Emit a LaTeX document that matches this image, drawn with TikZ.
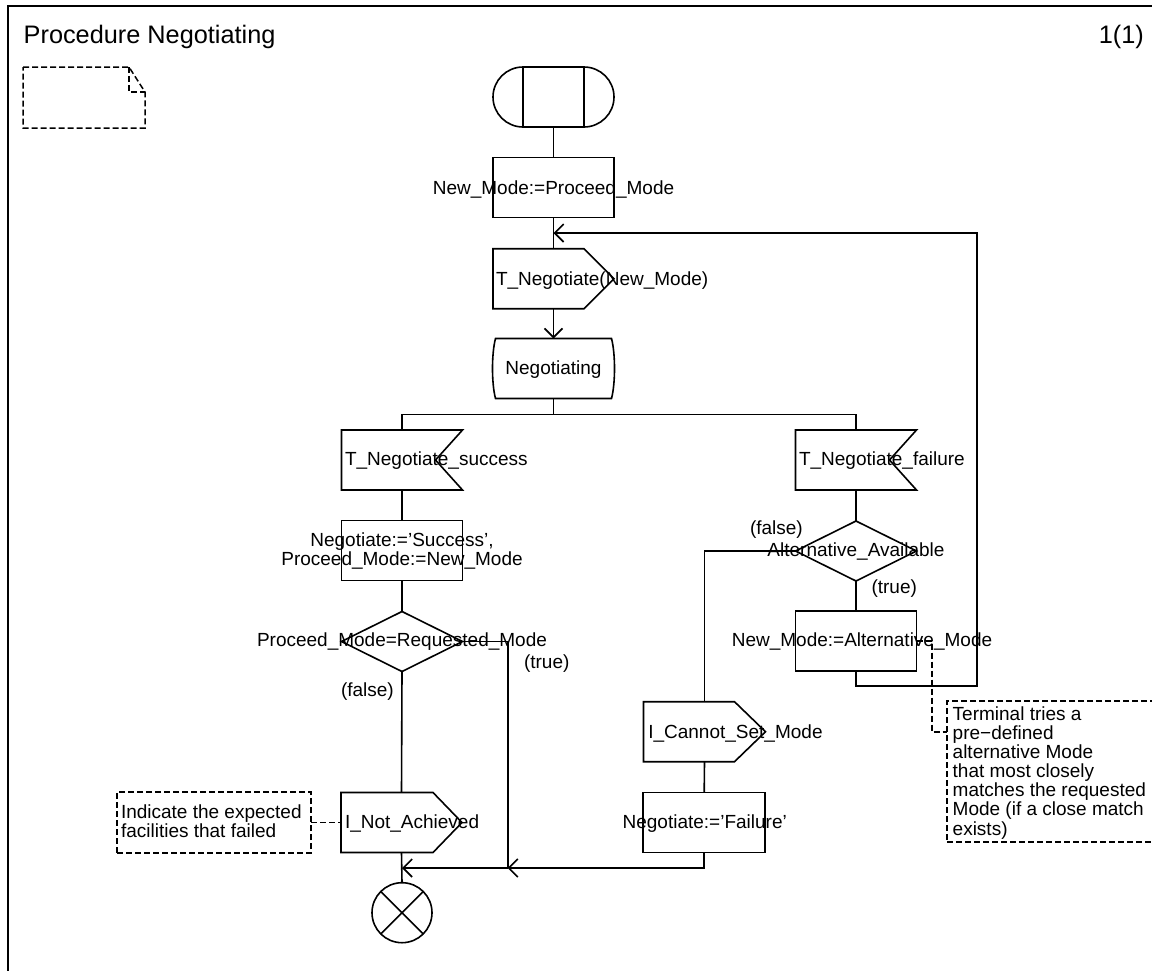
\documentclass[tikz,border=0pt]{standalone}
\usepackage{fontspec}
\setmainfont{Liberation Sans}
\usetikzlibrary{arrows.meta}
\begin{document}
\begin{tikzpicture}[x=1pt,y=-1pt,
  sym/.style={minimum width=121pt,minimum height=60pt,inner sep=0pt,outer sep=0pt},
  ln/.style={draw,line width=1.6pt},
  arr/.style={ln,-{Straight Barb[length=9pt,width=18pt]}},
  cmt/.style={draw,line width=1.5pt,dash pattern=on 6pt off 3pt},
  lbl/.style={font=\fontsize{19}{18.5}\selectfont,inner sep=0pt,outer sep=0pt,anchor=base},
  lblw/.style={lbl,anchor=base west},
]
\useasboundingbox (0,0) rectangle (1152,970);
% frame
\draw[line width=2pt] (8,990) -- (8,6) -- (1170,6);
\node[anchor=base west,font=\fontsize{25.3}{28}\selectfont,inner sep=0pt] (title) at (23.5,43) {Procedure Negotiating};
\node[anchor=base east,font=\fontsize{25.3}{28}\selectfont,inner sep=0pt] (page) at (1144,43) {1(1)};

% text symbol (top left)
\node[minimum width=122pt,minimum height=61pt,inner sep=0pt,outer sep=0pt] (textsym) at (84,97.5) {};
\draw[cmt] (textsym.north west) -- ([xshift=-16pt]textsym.north east) -- ([yshift=-25pt]textsym.north east) -- (textsym.south east) -- (textsym.south west) -- cycle;
\draw[cmt] ([xshift=-16pt]textsym.north east) -- ([xshift=-16pt,yshift=-25pt]textsym.north east) -- ([yshift=-25pt]textsym.north east);

% start
\node[sym] (start) at (553.5,97) {};
\draw[ln] ([xshift=30pt]start.north west) -- ([xshift=-30pt]start.north east) arc[start angle=90,end angle=-90,radius=30pt] -- ([xshift=30pt]start.south west) arc[start angle=270,end angle=90,radius=30pt] -- cycle;
\draw[ln] ([xshift=30pt]start.north west) -- ([xshift=30pt]start.south west) ([xshift=-30pt]start.north east) -- ([xshift=-30pt]start.south east);

% task 1
\node[sym,ln] (task1) at (553.5,187.5) {};
\node[lbl] (task1t) at (553.5,194) {New\_Mode:=Proceed\_Mode};

% output 1
\node[sym] (out1) at (553.5,278.7) {};
\draw[ln] (out1.north west) -- ([xshift=-30pt]out1.north east) -- (out1.east) -- ([xshift=-30pt]out1.south east) -- (out1.south west) -- cycle;
\node[lblw] (out1t) at (496,285) {T\_Negotiate(New\_Mode)};

% state
\node[sym,minimum width=116pt] (state) at (553.5,368.5) {};
\draw[ln] (state.north west) -- (state.north east) .. controls ([xshift=4pt,yshift=-15pt]state.north east) and ([xshift=4pt,yshift=15pt]state.south east) .. (state.south east) -- (state.south west) .. controls ([xshift=-4pt,yshift=15pt]state.south west) and ([xshift=-4pt,yshift=-15pt]state.north west) .. (state.north west) -- cycle;
\node[lbl] (statet) at (553.5,374) {Negotiating};

% inputs
\node[sym] (inS) at (402,460) {};
\draw[ln] (inS.north west) -- (inS.north east) -- ([xshift=-27pt]inS.east) -- (inS.south east) -- (inS.south west) -- cycle;
\node[lblw] (inSt) at (345,465.5) {T\_Negotiate\_success};
\node[sym] (inF) at (856,460) {};
\draw[ln] (inF.north west) -- (inF.north east) -- ([xshift=-27pt]inF.east) -- (inF.south east) -- (inF.south west) -- cycle;
\node[lblw] (inFt) at (799,465) {T\_Negotiate\_failure};

% left column
\node[sym,ln] (tS) at (402,550.5) {};
\node[lbl] (tSt) at (402,546.5) {\begin{tabular}[t]{@{}c@{}}Negotiate:=’Success’,\\Proceed\_Mode:=New\_Mode\end{tabular}};
\node[sym] (dS) at (402,641.5) {};
\draw[ln] (dS.north) -- (dS.east) -- (dS.south) -- (dS.west) -- cycle;
\node[lbl] (dSt) at (402,646.5) {Proceed\_Mode=Requested\_Mode};
\node[lblw] (dStrue) at (524,668) {(true)};
\node[lblw] (dSfalse) at (341,696) {(false)};
\node[sym] (ina) at (401.5,822.5) {};
\draw[ln] (ina.north west) -- ([xshift=-29pt]ina.north east) -- (ina.east) -- ([xshift=-29pt]ina.south east) -- (ina.south west) -- cycle;
\node[lblw] (inat) at (345,828.5) {I\_Not\_Achieved};
\node[cmt,minimum width=194pt,minimum height=61pt,inner sep=0pt,outer sep=0pt] (noteL) at (214,822.5) {};
\node[lblw,font=\fontsize{19}{19}\selectfont] (noteLt) at (121,818) {\begin{tabular}[t]{@{}l@{}}Indicate the expected\\facilities that failed\end{tabular}};
\node[circle,ln,minimum size=60pt,inner sep=0pt,outer sep=0pt] (endsym) at (402,912.7) {};
\draw[ln] (endsym.north west) -- (endsym.south east) (endsym.north east) -- (endsym.south west);

% right column
\node[sym] (dF) at (856,551) {};
\draw[ln] (dF.north) -- (dF.east) -- (dF.south) -- (dF.west) -- cycle;
\node[lbl] (dFt) at (856,556.5) {Alternative\_Available};
\node[lblw] (dFfalse) at (750,534) {(false)};
\node[lblw] (dFtrue) at (871.5,593) {(true)};
\node[sym,ln] (alt) at (856,641) {};
\node[lbl] (altt) at (862,646.5) {New\_Mode:=Alternative\_Mode};
\node[sym,minimum width=122pt] (cannot) at (704.5,731.7) {};
\draw[ln] (cannot.north west) -- ([xshift=-31pt]cannot.north east) -- (cannot.east) -- ([xshift=-31pt]cannot.south east) -- (cannot.south west) -- cycle;
\node[lblw] (cannott) at (648.3,738.5) {I\_Cannot\_Set\_Mode};
\node[sym,ln,minimum width=122pt] (fTask) at (704.2,822.3) {};
\node[lbl] (fTaskt) at (704.7,828.5) {Negotiate:=’Failure’};
\node[cmt,minimum width=223pt,minimum height=141pt,inner sep=0pt,outer sep=0pt,anchor=north west] (noteR) at (947,701) {};
\node[lblw,font=\fontsize{19}{18}\selectfont] (noteRt) at (952.7,720) {\begin{tabular}[t]{@{}l@{}}Terminal tries a\\pre−defined\\alternative Mode\\that most closely\\matches the requested\\Mode (if a close match\\exists)\end{tabular}};

% connectors
\coordinate (join) at (553.5,233);
\coordinate (loopA) at (977,686);
\coordinate (brL) at (402,414.5);
\coordinate (brR) at (856,414.5);
\coordinate (mT) at (507.7,868);
\coordinate (mL) at (402,868);
\coordinate (cR1) at (932,641);
\coordinate (cR2) at (947,732);

\draw[ln] (start.south) -- (task1.north);
\draw[ln] (task1.south) -- (out1.north);
\draw[arr] (out1.south) -- (state.north);
\draw[ln] (state.south) -- (state.south |- brL);
\draw[ln] (inS.north) -- (brL) -- (brR) -- (inF.north);
\draw[ln] (inS.south) -- (tS.north);
\draw[ln] (tS.south) -- (dS.north);
\draw[ln] (dS.south) -- (ina.north);
\draw[ln] (ina.south) -- (endsym.north);
\draw[ln] (dS.east) -| (mT);
\draw[arr] (fTask.south) |- (mT);
\draw[arr] (mT) -- (mL);
\draw[ln] (inF.south) -- (dF.north);
\draw[ln] (dF.south) -- (alt.north);
\draw[ln] (dF.west) -| (cannot.north);
\draw[ln] (cannot.south) -- (fTask.north);
\draw[arr] (alt.south) |- (loopA) |- (join);
\draw[cmt] (noteL.east) -- (ina.west);
\draw[cmt] (alt.east) -- (cR1) |- (cR2);
\end{tikzpicture}
\end{document}
